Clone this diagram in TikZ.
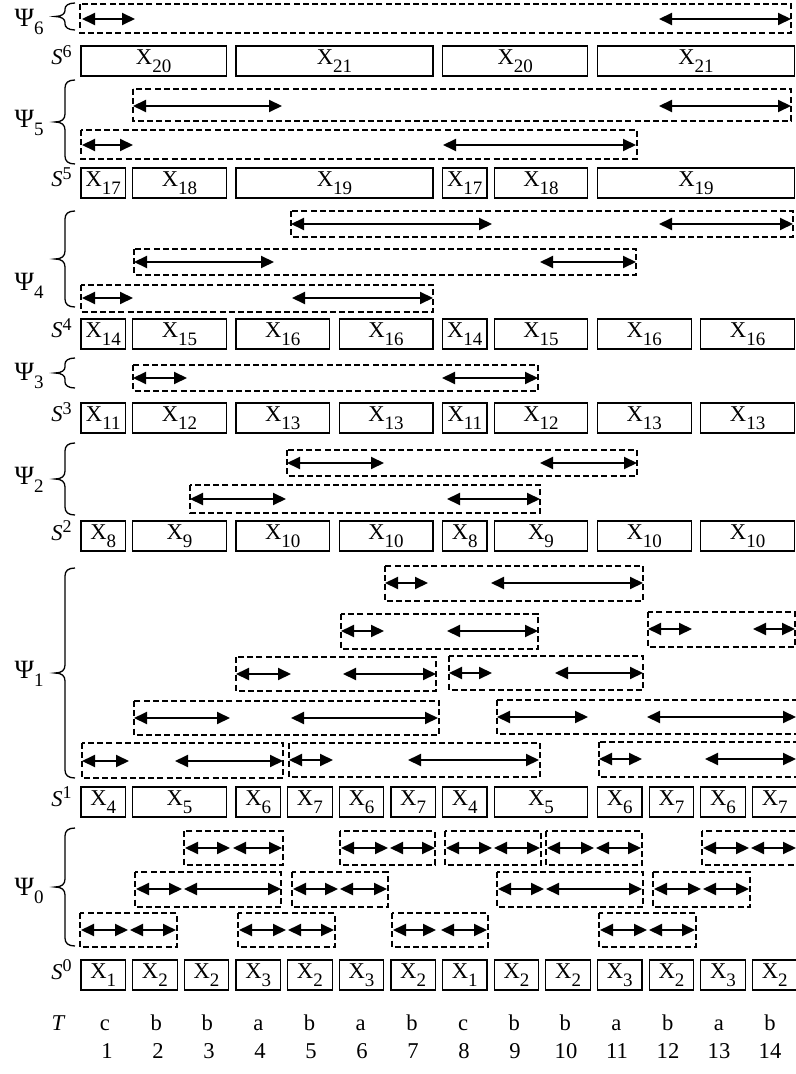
\documentclass[tikz,border=0pt]{standalone}
\usepackage{fontspec}
\setmainfont{Liberation Serif}
\usetikzlibrary{arrows.meta}
\newcommand\Xs[1]{X\raisebox{-3.8pt}{\fontsize{9.5}{9.5}\selectfont #1}}
\newcommand\Psil[1]{Ψ\raisebox{-4pt}{\fontsize{9.5}{9.5}\selectfont #1}}
\newcommand\Sl[1]{\textit{S}\raisebox{3.6pt}{\fontsize{9}{9}\selectfont #1}}
\newcommand\cellrun[5]{%
  \pgfmathsetmacro\cellW{51.65*(#3-#2)+44.5-2.5*(#3>#2)}%
  \pgfmathsetmacro\cellX{81+51.65*(#2-1)+\cellW/2}%
  \pgfmathsetmacro\cellWpt{\cellW*0.5}%
  \pgfmathsetmacro\cellY{#4+15}%
  \node[cellbox, minimum width=\cellWpt pt] (#1) at (\cellX,\cellY) {#5};}
\newcommand\dbx[4]{\draw[dbox] (#1,#2) rectangle (#3,#4);}
\newcommand\arw[3]{\draw[arr] (#1,#3) -- (#2,#3);}
\newcommand\psibrace[3]{%
  \pgfmathsetmacro\brmid{(#1+#2)/2}%
  \draw[brc] (75,#1) .. controls (68,#1) and (65,{#1+3}) .. (65,{#1+#3})
    -- (65,{\brmid-#3}) .. controls (65,{\brmid-3}) and (62,\brmid) .. (55,\brmid)
    .. controls (62,\brmid) and (65,{\brmid+3}) .. (65,{\brmid+#3})
    -- (65,{#2-#3}) .. controls (65,{#2-3}) and (68,#2) .. (75,#2);}
\tikzset{
  cellbox/.style={draw, line width=0.6pt, inner sep=0pt, outer sep=0pt,
    minimum height=15pt, font=\fontsize{11.3}{13}\selectfont},
  dbox/.style={draw, line width=0.9pt, dash pattern=on 3pt off 1.6pt},
  arr/.style={line width=1pt, {Triangle[length=6.5pt,width=6pt]}-{Triangle[length=6.5pt,width=6pt]}},
  brc/.style={line width=0.65pt},
  txt/.style={inner sep=0pt, font=\fontsize{11.3}{13}\selectfont},
  psilab/.style={inner sep=0pt, anchor=base east, font=\fontsize{13.2}{15}\selectfont},
  slab/.style={inner sep=0pt, anchor=base east, font=\fontsize{11.3}{13}\selectfont},
}
\begin{document}
\begin{tikzpicture}[x=0.5pt,y=-0.5pt]
\useasboundingbox (0,0) rectangle (796,1074);

% ---------- labels Psi ----------
\node[psilab] (psi6) at (44,27) {\Psil{6}};
\node[psilab] (psi5) at (44,128) {\Psil{5}};
\node[psilab] (psi4) at (44,291) {\Psil{4}};
\node[psilab] (psi3) at (44,380) {\Psil{3}};
\node[psilab] (psi2) at (44,484) {\Psil{2}};
\node[psilab] (psi1) at (44,678) {\Psil{1}};
\node[psilab] (psi0) at (44,895) {\Psil{0}};

\psibrace{3}{30}{6}
\psibrace{80}{164}{8}
\psibrace{211}{307}{8}
\psibrace{358}{388}{6}
\psibrace{443}{515}{8}
\psibrace{568}{778}{8}
\psibrace{828}{946}{8}

% ---------- S labels ----------
\node[slab] (s6l) at (72,65) {\Sl{6}};
\node[slab] (s5l) at (72,187) {\Sl{5}};
\node[slab] (s4l) at (72,338) {\Sl{4}};
\node[slab] (s3l) at (72,422) {\Sl{3}};
\node[slab] (s2l) at (72,540) {\Sl{2}};
\node[slab] (s1l) at (72,806) {\Sl{1}};
\node[slab] (s0l) at (72,979) {\Sl{0}};

% ---------- S^6 ----------
\cellrun{s6a}{1}{3}{46}{\Xs{20}}
\cellrun{s6b}{4}{7}{46}{\Xs{21}}
\cellrun{s6c}{8}{10}{46}{\Xs{20}}
\cellrun{s6d}{11}{14}{46}{\Xs{21}}
% ---------- S^5 ----------
\cellrun{s5a}{1}{1}{168}{\Xs{17}}
\cellrun{s5b}{2}{3}{168}{\Xs{18}}
\cellrun{s5c}{4}{7}{168}{\Xs{19}}
\cellrun{s5d}{8}{8}{168}{\Xs{17}}
\cellrun{s5e}{9}{10}{168}{\Xs{18}}
\cellrun{s5f}{11}{14}{168}{\Xs{19}}
% ---------- S^4 ----------
\cellrun{s4a}{1}{1}{319}{\Xs{14}}
\cellrun{s4b}{2}{3}{319}{\Xs{15}}
\cellrun{s4c}{4}{5}{319}{\Xs{16}}
\cellrun{s4d}{6}{7}{319}{\Xs{16}}
\cellrun{s4e}{8}{8}{319}{\Xs{14}}
\cellrun{s4f}{9}{10}{319}{\Xs{15}}
\cellrun{s4g}{11}{12}{319}{\Xs{16}}
\cellrun{s4h}{13}{14}{319}{\Xs{16}}
% ---------- S^3 ----------
\cellrun{s3a}{1}{1}{403}{\Xs{11}}
\cellrun{s3b}{2}{3}{403}{\Xs{12}}
\cellrun{s3c}{4}{5}{403}{\Xs{13}}
\cellrun{s3d}{6}{7}{403}{\Xs{13}}
\cellrun{s3e}{8}{8}{403}{\Xs{11}}
\cellrun{s3f}{9}{10}{403}{\Xs{12}}
\cellrun{s3g}{11}{12}{403}{\Xs{13}}
\cellrun{s3h}{13}{14}{403}{\Xs{13}}
% ---------- S^2 ----------
\cellrun{s2a}{1}{1}{521}{\Xs{8}}
\cellrun{s2b}{2}{3}{521}{\Xs{9}}
\cellrun{s2c}{4}{5}{521}{\Xs{10}}
\cellrun{s2d}{6}{7}{521}{\Xs{10}}
\cellrun{s2e}{8}{8}{521}{\Xs{8}}
\cellrun{s2f}{9}{10}{521}{\Xs{9}}
\cellrun{s2g}{11}{12}{521}{\Xs{10}}
\cellrun{s2h}{13}{14}{521}{\Xs{10}}
% ---------- S^1 ----------
\cellrun{s1a}{1}{1}{787}{\Xs{4}}
\cellrun{s1b}{2}{3}{787}{\Xs{5}}
\cellrun{s1c}{4}{4}{787}{\Xs{6}}
\cellrun{s1d}{5}{5}{787}{\Xs{7}}
\cellrun{s1e}{6}{6}{787}{\Xs{6}}
\cellrun{s1f}{7}{7}{787}{\Xs{7}}
\cellrun{s1g}{8}{8}{787}{\Xs{4}}
\cellrun{s1h}{9}{10}{787}{\Xs{5}}
\cellrun{s1i}{11}{11}{787}{\Xs{6}}
\cellrun{s1j}{12}{12}{787}{\Xs{7}}
\cellrun{s1k}{13}{13}{787}{\Xs{6}}
\cellrun{s1l}{14}{14}{787}{\Xs{7}}
% ---------- S^0 ----------
\foreach \k/\v in {1/1,2/2,3/2,4/3,5/2,6/3,7/2,8/1,9/2,10/2,11/3,12/2,13/3,14/2}
  {\cellrun{s0c\k}{\k}{\k}{960}{\Xs{\v}}}

% ---------- T row ----------
\node[txt, anchor=base east] (tlab) at (66,1030) {\textit{T}};
\foreach \k/\t in {1/c,2/b,3/b,4/a,5/b,6/a,7/b,8/c,9/b,10/b,11/a,12/b,13/a,14/b}{
  \node[txt, anchor=base] (t\k) at ({105+51.15*(\k-1)},1030) {\t};
  \node[txt, anchor=base] (n\k) at ({107+51*(\k-1)},1058) {\k};
}

% ---------- Psi_6 ----------
\dbx{80}{4}{791}{33}
\arw{82}{135}{19} \arw{659}{791}{19}
% ---------- Psi_5 ----------
\dbx{133}{89}{791}{121}
\arw{133}{282}{106} \arw{659}{791}{106}
\dbx{81}{130}{637}{159}
\arw{82}{133}{145} \arw{443}{636}{145}
% ---------- Psi_4 ----------
\dbx{291}{211}{793}{237}
\arw{291}{492}{224} \arw{659}{793}{224}
\dbx{134}{249}{636}{275}
\arw{134}{274}{262} \arw{540}{636}{262}
\dbx{81}{285}{433}{312}
\arw{82}{133}{298} \arw{292}{433}{298}
% ---------- Psi_3 ----------
\dbx{133}{365}{538}{391}
\arw{133}{187}{378} \arw{442}{538}{378}
% ---------- Psi_2 ----------
\dbx{287}{450}{637}{476}
\arw{287}{384}{463} \arw{540}{637}{463}
\dbx{190}{485}{540}{513}
\arw{190}{286}{499} \arw{447}{540}{499}
% ---------- Psi_1 ----------
\dbx{385}{566}{643}{601}
\arw{385}{428}{583} \arw{491}{643}{583}
\dbx{341}{614}{538}{649}
\arw{341}{384}{631} \arw{447}{538}{631}
\dbx{648}{612}{795}{647}
\arw{648}{692}{629} \arw{753}{795}{629}
\dbx{236}{657}{436}{691}
\arw{236}{291}{674} \arw{343}{436}{674}
\dbx{449}{656}{643}{690}
\arw{449}{492}{673} \arw{555}{643}{673}
\dbx{134}{701}{439}{735}
\arw{134}{230}{718} \arw{291}{438}{718}
\dbx{497}{700}{802}{734}
\arw{497}{588}{717} \arw{647}{796}{717}
\dbx{82}{743}{283}{778}
\arw{82}{129}{761} \arw{175}{283}{761}
\dbx{289}{743}{540}{777}
\arw{289}{333}{760} \arw{408}{539}{760}
\dbx{599}{742}{802}{777}
\arw{599}{642}{759} \arw{705}{796}{759}
% ---------- Psi_0 ----------
\dbx{184}{831}{283}{865} \arw{185}{230}{848} \arw{233}{282}{848}
\dbx{340}{831}{435}{865} \arw{341}{388}{848} \arw{390}{435}{848}
\dbx{445}{831}{541}{865} \arw{446}{492}{848} \arw{494}{540}{848}
\dbx{546}{831}{642}{865} \arw{547}{594}{848} \arw{596}{641}{848}
\dbx{702}{831}{802}{865} \arw{703}{749}{848} \arw{751}{796}{848}
\dbx{135}{872}{281}{907} \arw{136}{182}{889} \arw{184}{281}{889}
\dbx{292}{872}{388}{907} \arw{293}{338}{889} \arw{340}{387}{889}
\dbx{497}{872}{643}{907} \arw{498}{544}{889} \arw{546}{642}{889}
\dbx{653}{872}{750}{907} \arw{654}{701}{889} \arw{703}{749}{889}
\dbx{80}{913}{177}{947} \arw{81}{128}{930} \arw{130}{176}{930}
\dbx{238}{913}{335}{947} \arw{239}{286}{930} \arw{288}{334}{930}
\dbx{392}{913}{488}{947} \arw{393}{436}{930} \arw{441}{487}{930}
\dbx{599}{913}{696}{947} \arw{600}{647}{930} \arw{649}{695}{930}
\end{tikzpicture}
\end{document}
